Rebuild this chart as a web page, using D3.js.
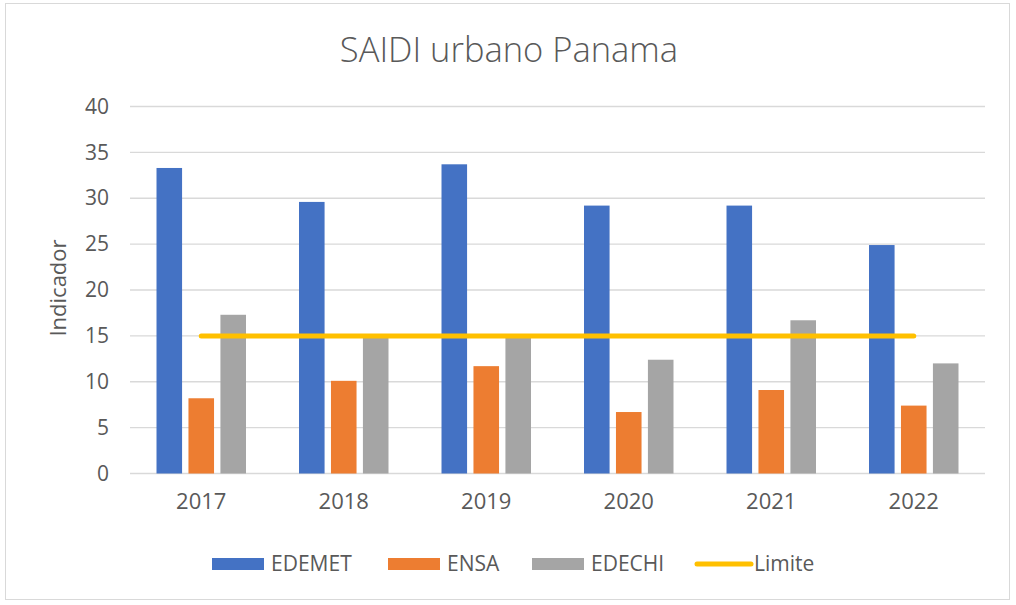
<!DOCTYPE html>
<html>
<head>
<meta charset="utf-8">
<script src="https://cdn.jsdelivr.net/npm/d3@7"></script>
<style>
  body { margin: 0; background: #fff; }
  text { font-family: "Open Sans", sans-serif; fill: #595959; }
</style>
</head>
<body>
<div class="chart"></div>
<script>
// datos
var years = ["2017", "2018", "2019", "2020", "2021", "2022"];
var series = ["EDEMET", "ENSA", "EDECHI"];
var edemet = [33.3, 29.6, 33.7, 29.2, 29.2, 24.9];
var ensa = [8.2, 10.1, 11.7, 6.7, 9.1, 7.4];
var edechi = [17.3, 14.9, 14.9, 12.4, 16.7, 12.0];
var limite = [15, 15, 15, 15, 15, 15];
var yTicks = [0, 5, 10, 15, 20, 25, 30, 35, 40];

var colors = {EDEMET: "#4472C4", ENSA: "#ED7D31", EDECHI: "#A5A5A5", Limite: "#FFC000"};

var W = 1016, H = 605;
var margin = {top: 106.5, right: 31, bottom: 131.5, left: 130},
    width = W - margin.left - margin.right,
    height = H - margin.top - margin.bottom;

var svg = d3.select(".chart").append("svg")
    .attr("width", W)
    .attr("height", H);

// marco
svg.append("rect")
    .attr("x", 5.5).attr("y", 3.5)
    .attr("width", 1004).attr("height", 596)
    .attr("fill", "#fff")
    .attr("stroke", "#d9d9d9");

svg.append("text")
    .attr("x", 509).attr("y", 62)
    .attr("text-anchor", "middle")
    .style("font-size", "34.5px")
    .style("font-weight", 300)
    .text("SAIDI urbano Panama");

var g = svg.append("g")
    .attr("transform", "translate(" + margin.left + "," + margin.top + ")");

var x0 = d3.scaleBand().domain(years).range([0, width]);
var x1 = d3.scaleBand().domain(series)
    .range([x0.bandwidth() * 0.186, x0.bandwidth() * 0.814])
    .paddingInner(0.2);
var y = d3.scaleLinear().domain([0, 40]).range([height, 0]);

// lineas de cuadricula
g.selectAll(".grid")
  .data(yTicks)
  .enter().append("line")
    .attr("x1", 0).attr("x2", width)
    .attr("y1", function(d) { return y(d); })
    .attr("y2", function(d) { return y(d); })
    .attr("stroke", "#d9d9d9")
    .attr("stroke-width", 1.3);

var yAxis = d3.axisLeft(y).tickValues(yTicks).tickSize(0).tickPadding(21);
g.append("g").call(yAxis)
  .call(function(s) { s.select(".domain").remove(); })
  .selectAll("text")
    .style("font-family", "Open Sans")
    .style("font-size", "21px")
    .style("fill", "#595959");

var xAxis = d3.axisBottom(x0).tickSize(0).tickPadding(20);
g.append("g")
    .attr("transform", "translate(0," + height + ")")
    .call(xAxis)
  .call(function(s) { s.select(".domain").remove(); })
  .selectAll("text")
    .style("font-family", "Open Sans")
    .style("font-size", "22px")
    .style("fill", "#595959");

svg.append("text")
    .attr("transform", "translate(66,288) rotate(-90)")
    .attr("text-anchor", "middle")
    .style("font-size", "22px")
    .text("Indicador");

var values = {EDEMET: edemet, ENSA: ensa, EDECHI: edechi};

series.forEach(function(s) {
  g.selectAll(".bar-" + s)
    .data(values[s])
    .enter().append("rect")
      .attr("x", function(d, i) { return x0(years[i]) + x1(s); })
      .attr("y", function(d) { return y(d); })
      .attr("width", x1.bandwidth())
      .attr("height", function(d) { return height - y(d); })
      .attr("fill", colors[s]);
});

var line = d3.line()
    .x(function(d, i) { return x0(years[i]) + x0.bandwidth() / 2; })
    .y(function(d) { return y(d); });

g.append("path")
    .datum(limite)
    .attr("d", line)
    .attr("fill", "none")
    .attr("stroke", colors.Limite)
    .attr("stroke-width", 5)
    .attr("stroke-linecap", "round");

// leyenda
var legendX = [212, 388, 532, 695];
var legend = svg.append("g").attr("transform", "translate(0,564)");
series.concat(["Limite"]).forEach(function(s, i) {
  var lx = legendX[i];
  if (s === "Limite") {
    legend.append("line")
      .attr("x1", lx + 2).attr("x2", lx + 56)
      .attr("stroke", colors.Limite)
      .attr("stroke-width", 5)
      .attr("stroke-linecap", "round");
  } else {
    legend.append("rect")
      .attr("x", lx).attr("y", -6)
      .attr("width", 52).attr("height", 12)
      .attr("fill", colors[s]);
  }
  legend.append("text")
      .attr("x", lx + 59).attr("y", 7)
      .style("font-size", "21px")
      .text(s);
});
</script>
</body>
</html>
